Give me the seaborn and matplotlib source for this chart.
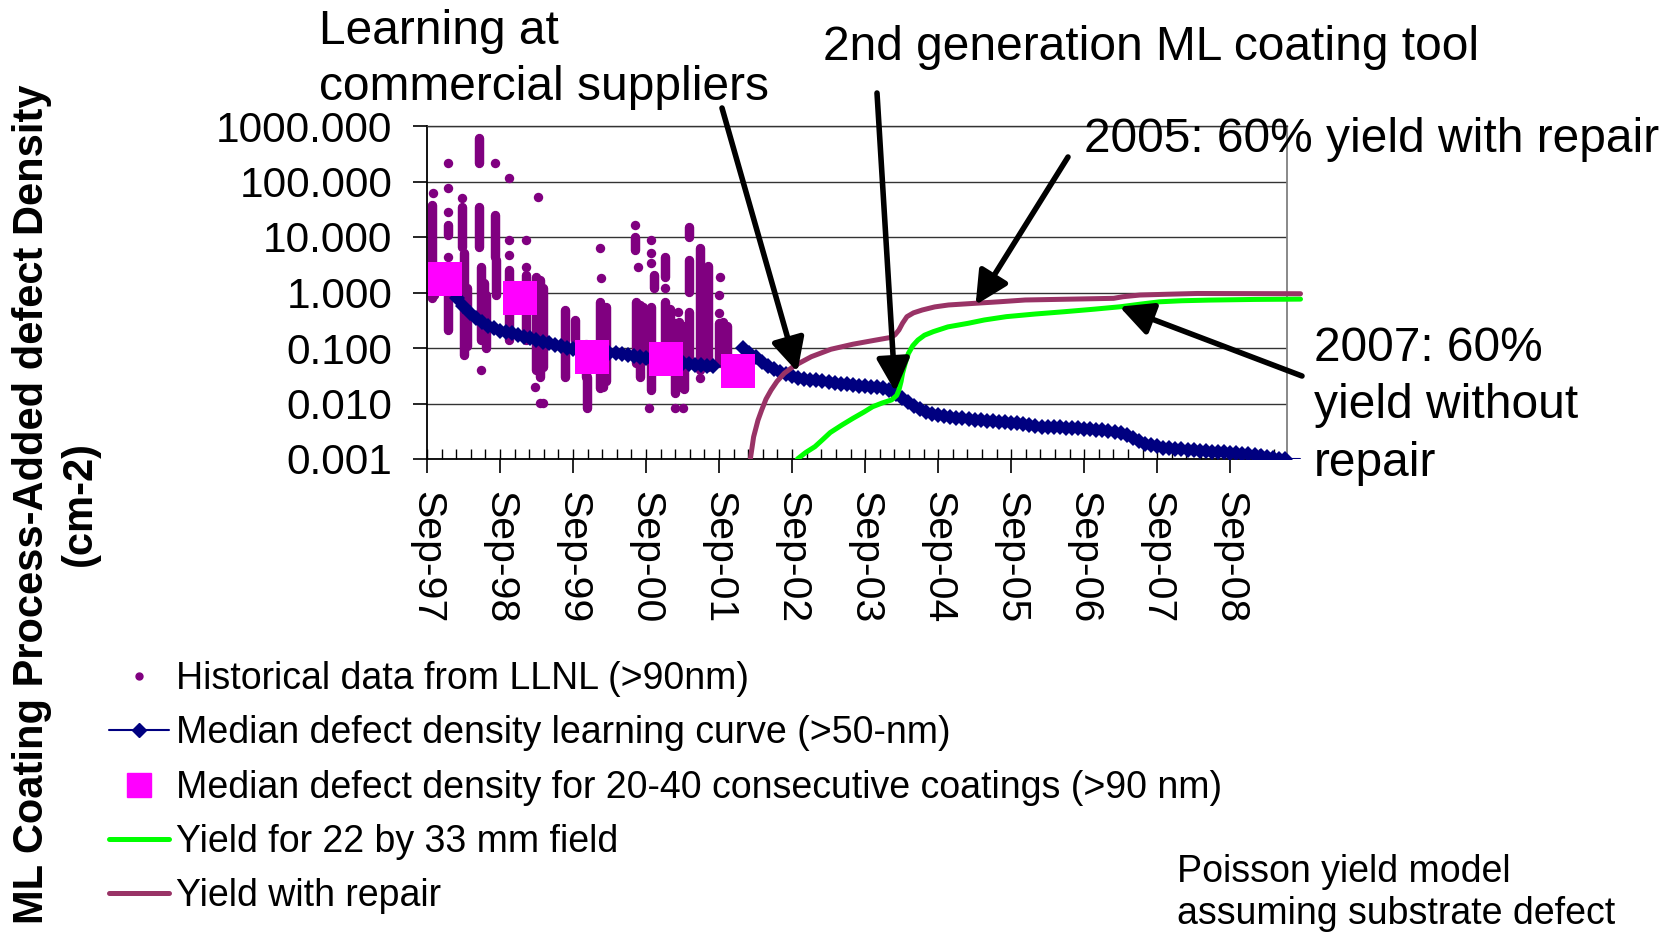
"""
ML coating defect density learning curve with Poisson yield curves.
"""
import numpy as np
import matplotlib
matplotlib.use("Agg")
import matplotlib.pyplot as plt
from matplotlib.lines import Line2D
from matplotlib.ticker import FixedLocator, FuncFormatter, NullLocator
from matplotlib.transforms import Bbox, TransformedBbox
import seaborn as sns

# x positions are decimal years (Sep-97 = 1997.667)
year_labels = ["Sep-97", "Sep-98", "Sep-99", "Sep-00", "Sep-01", "Sep-02",
               "Sep-03", "Sep-04", "Sep-05", "Sep-06", "Sep-07", "Sep-08"]
y_tick_values = [0.001, 0.01, 0.1, 1, 10, 100, 1000]

# historical LLNL data: single dots
hist_x = [1997.75, 1997.95, 1997.95, 1997.95, 1997.95, 1998.14, 1998.40, 1998.60,
          1998.79, 1998.79, 1998.79, 1999.02, 1999.02, 1999.19, 1999.15, 1999.22,
          1999.25, 2000.03, 2000.05, 2000.52, 2000.55, 2000.71, 2000.74, 2000.74,
          2000.74, 2000.93, 2001.10, 2001.06, 2001.17, 2001.40, 2001.68, 2001.66,
          2001.66]
hist_y = [61, 212, 75, 28.6, 4.4, 50, 0.04, 212,
          114, 8.8, 4.7, 8.8, 2.92, 53, 0.0201, 0.0101,
          0.0101, 6.25, 1.8, 16.4, 2.92, 0.0082, 8.8, 5.1,
          3.36, 1.19, 0.45, 0.0082, 0.0082, 0.0284, 1.93, 0.90,
          0.42]

# historical LLNL data: dense vertical runs of dots (x, top, bottom)
run_x = [1997.73, 1997.76, 1997.95, 1997.96, 1998.14, 1998.17, 1998.21, 1998.38,
         1998.38, 1998.41, 1998.45, 1998.60, 1998.61, 1998.79, 1999.02, 1999.16,
         1999.21, 1999.26, 1999.56, 1999.69, 1999.86, 1999.84, 2000.04, 2000.12,
         2000.52, 2000.53, 2000.63, 2000.74, 2000.77, 2000.93, 2000.93, 2000.99,
         2001.06, 2001.18, 2001.26, 2001.26, 2001.26, 2001.41, 2001.51, 2001.66,
         2001.78, 1998.48, 1999.18, 2000.58, 2001.12, 2001.46, 2001.72, 2000.08]
run_top = [37.7, 3.0, 16.4, 1.93, 35, 5.1, 1.2, 600,
           35, 2.92, 1.5, 24.9, 3.85, 2.54, 2.07, 1.93,
           1.68, 1.2, 0.484, 0.32, 0.0304, 0.12, 0.68, 0.55,
           10.1, 0.68, 0.55, 0.556, 2.07, 4.4, 0.68, 0.5,
           0.278, 0.25, 15.3, 3.85, 0.45, 6.25, 3.0, 0.278,
           0.25, 0.9, 1.5, 0.6, 0.3, 2.0, 0.3, 0.5]
run_bottom = [0.785, 0.9, 10.9, 0.21, 6.7, 0.075, 0.11, 212,
              6.7, 0.139, 0.15, 4.4, 0.90, 0.139, 0.139, 0.040,
              0.0304, 0.046, 0.0304, 0.139, 0.0082, 0.03, 0.0188, 0.025,
              5.8, 0.053, 0.06, 0.0175, 1.19, 1.93, 0.046, 0.05,
              0.0152, 0.018, 10.1, 1.03, 0.061, 0.040, 0.045, 0.053,
              0.06, 0.1, 0.05, 0.03, 0.02, 0.05, 0.06, 0.02]

# median defect density, 20-40 consecutive coatings
square_x = [1997.92, 1998.94, 1999.92, 2000.94, 2001.92]
square_y = [1.77, 0.785, 0.0697, 0.0634, 0.0388]

# median learning curve, monthly (Feb-98 .. Aug-01, Jan-02 .. Jun-09)
blue1_start = 1998.083
blue1_vals = [0.78, 0.58, 0.43, 0.35, 0.29, 0.25, 0.225, 0.205, 0.195, 0.185, 0.17,
              0.16, 0.15, 0.14, 0.13, 0.122, 0.115, 0.108, 0.10, 0.095, 0.092, 0.09, 0.088,
              0.086, 0.084, 0.082, 0.08, 0.078, 0.075, 0.072, 0.068, 0.065, 0.063, 0.061, 0.059,
              0.057, 0.055, 0.053, 0.051, 0.05, 0.049, 0.048, 0.047]
blue2_start = 2002.0
blue2_vals = [0.10, 0.082, 0.068, 0.055, 0.047, 0.041, 0.037, 0.034, 0.031, 0.029, 0.028, 0.027,
              0.026, 0.025, 0.024, 0.0232, 0.0225, 0.022, 0.0215, 0.021, 0.0205, 0.020, 0.0195, 0.019,
              0.0175, 0.015, 0.0128, 0.0106, 0.009, 0.0078, 0.0071, 0.0066, 0.0062, 0.0059, 0.0057, 0.0055,
              0.0054, 0.0053, 0.0051, 0.0050, 0.0049, 0.0048, 0.0047, 0.0046, 0.0045, 0.0044, 0.0042, 0.0041,
              0.0039, 0.0038, 0.0038, 0.0037, 0.0037, 0.0036, 0.0036, 0.0036, 0.0035, 0.0035, 0.0034, 0.0034,
              0.0032, 0.0031, 0.0030, 0.0027, 0.0024, 0.0021, 0.0019, 0.0018, 0.0017, 0.0016, 0.00157, 0.00153,
              0.0015, 0.00147, 0.00144, 0.00141, 0.00138, 0.00135, 0.00133, 0.00131, 0.00129, 0.00127, 0.00124, 0.00121,
              0.00118, 0.00114, 0.0011, 0.00106, 0.00102, 0.001]
blue_tail_x = [2009.417, 2009.62]
blue_tail_y = [0.001, 0.001]

# yield for 22 x 33 mm field
green_x = [2002.66, 2002.74, 2002.85, 2002.98, 2003.08, 2003.19, 2003.35, 2003.5, 2003.65,
           2003.77, 2003.9, 2004.03, 2004.10, 2004.13, 2004.16, 2004.18, 2004.22, 2004.26,
           2004.32, 2004.39, 2004.48, 2004.60, 2004.8, 2005.08, 2005.3, 2005.60, 2006.0,
           2006.39, 2006.8, 2007.17, 2007.45, 2007.70, 2008.0, 2008.38, 2009.0, 2009.63]
green_y = [0.0005, 0.001, 0.0013, 0.00167, 0.0022, 0.003, 0.0041, 0.0054, 0.0070,
           0.00875, 0.0102, 0.0116, 0.014, 0.0175, 0.025, 0.035, 0.055, 0.080,
           0.11, 0.139, 0.17, 0.197, 0.24, 0.279, 0.32, 0.367, 0.41,
           0.45, 0.50, 0.555, 0.62, 0.68, 0.71, 0.73, 0.75, 0.76]

# yield with repair
repair_x = [2002.06, 2002.10, 2002.14, 2002.20, 2002.25, 2002.31, 2002.38, 2002.46, 2002.56,
            2002.70, 2002.93, 2003.2, 2003.5, 2003.8, 2004.03, 2004.08, 2004.13, 2004.18,
            2004.24, 2004.33, 2004.45, 2004.62, 2004.81, 2005.18, 2005.5, 2005.86, 2006.5,
            2007.07, 2007.2, 2007.43, 2007.8, 2008.21, 2009.63]
repair_y = [0.0005, 0.0011, 0.0025, 0.005, 0.0076, 0.012, 0.0175, 0.025, 0.035,
            0.048, 0.0697, 0.095, 0.117, 0.138, 0.156, 0.175, 0.211, 0.28,
            0.367, 0.43, 0.484, 0.55, 0.596, 0.64, 0.68, 0.733, 0.76,
            0.785, 0.84, 0.90, 0.93, 0.96, 0.95]

legend_labels = ["Historical data from LLNL (>90nm)",
                 "Median defect density learning curve (>50-nm)",
                 "Median defect density for 20-40 consecutive coatings (>90 nm)",
                 "Yield for 22 by 33 mm field",
                 "Yield with repair"]

PURPLE = "#800080"
NAVY = "#000080"
PINK = "#FF00FF"
GREEN = "#00FF00"
MAROON = "#993366"

sns.set_theme(style="white", rc={"text.color": "black", "axes.labelcolor": "black",
                                 "xtick.color": "black", "ytick.color": "black"})
plt.rcParams["font.family"] = ["Liberation Sans", "DejaVu Sans"]

W, H = 1666, 933
fig = plt.figure(figsize=(W / 100, H / 100), dpi=100)
ax = fig.add_axes([427 / W, 474 / H, 860 / W, 333 / H])
ax.set_yscale("log")

# historical data
ax.vlines(run_x, run_bottom, run_top, colors=PURPLE, linewidth=6.8, capstyle="round", zorder=2)
sns.scatterplot(x=hist_x, y=hist_y, color=PURPLE, s=46, linewidth=0, ax=ax, zorder=2)

# learning curve
blue1_x = blue1_start + np.arange(len(blue1_vals)) / 12
blue2_x = blue2_start + np.arange(len(blue2_vals)) / 12
for bx, by in [(blue1_x, blue1_vals), (blue2_x, blue2_vals)]:
    sns.lineplot(x=bx, y=by, color=NAVY, lw=4.5, marker="D", markersize=8.5,
                 markeredgewidth=0, estimator=None, sort=False, ax=ax, zorder=3)
sns.lineplot(x=blue_tail_x, y=blue_tail_y, color=NAVY, lw=1.5, estimator=None,
             sort=False, ax=ax, zorder=3)

# consecutive coating medians
sns.scatterplot(x=square_x, y=square_y, color=PINK, marker="s", s=24 ** 2,
                linewidth=0, ax=ax, zorder=4)

# yield curves
sns.lineplot(x=green_x, y=green_y, color=GREEN, lw=3.6, estimator=None, sort=False,
             ax=ax, zorder=5)
sns.lineplot(x=repair_x, y=repair_y, color=MAROON, lw=3.6, estimator=None, sort=False,
             ax=ax, zorder=5)

# lines run a little past the right border, like the original
wide_clip = TransformedBbox(Bbox([[0, 0], [1.03, 1]]), ax.transAxes)
for ln in ax.lines:
    ln.set_clip_path(None)
    ln.set_clip_box(wide_clip)

ax.set_xlim(1997.667, 2009.445)
ax.set_ylim(0.001, 1000)

major_x = [1997.667 + k for k in range(len(year_labels))]
ax.xaxis.set_major_locator(FixedLocator(major_x))
ax.set_xticklabels(year_labels, rotation=270, fontsize=29.5)
ax.xaxis.set_minor_locator(FixedLocator([1997.667 + k / 5 for k in range(59)]))
ax.xaxis.remove_overlapping_locs = False
ax.tick_params(axis="x", which="major", direction="out", length=10, width=1.2,
               color="black", pad=13, bottom=True)
ax.tick_params(axis="x", which="minor", direction="in", length=7, width=1.0,
               color="black", bottom=True)

ax.yaxis.set_major_locator(FixedLocator(y_tick_values))
ax.yaxis.set_minor_locator(NullLocator())
ax.yaxis.set_major_formatter(FuncFormatter(lambda v, p: f"{v:.3f}"))
ax.tick_params(axis="y", which="major", direction="out", length=10, width=1.2,
               color="black", pad=15, labelsize=30.5, left=True)

ax.yaxis.grid(True, color="#333333", lw=1.0)
ax.xaxis.grid(False)
for side in ["left", "bottom"]:
    ax.spines[side].set_color("black")
    ax.spines[side].set_linewidth(1.3)
ax.spines["right"].set_color("#808080")
ax.spines["right"].set_linewidth(1.3)
ax.spines["top"].set_color("#333333")
ax.spines["top"].set_linewidth(1.0)

ax.set_xlabel("")
ax.set_ylabel("ML Coating Process-Added defect Density\n(cm-2)", fontsize=30,
              fontweight="bold", linespacing=1.25)
ax.yaxis.label.set_va("center")
ax.yaxis.set_label_coords((56 - 427) / 860, -(504 - 459) / 333)

# legend
handles = [
    Line2D([], [], ls="none", marker="o", color=PURPLE, markersize=5),
    Line2D([], [], color=NAVY, lw=1.5, marker="D", markersize=7),
    Line2D([], [], ls="none", marker="s", color=PINK, markersize=17),
    Line2D([], [], color=GREEN, lw=3.6),
    Line2D([], [], color=MAROON, lw=3.6),
]
ax.legend(handles, legend_labels, loc="upper left", bbox_to_anchor=(109 / W, 1 - 661 / H),
          bbox_transform=fig.transFigure, frameon=False, fontsize=27, handlelength=1.6,
          handletextpad=0.2, labelspacing=0.49, borderpad=0, borderaxespad=0)

# annotations
arrow = dict(arrowstyle="-|>,head_length=0.4,head_width=0.2", mutation_scale=50,
             lw=4, color="black", shrinkA=0, shrinkB=0)
ax.annotate("", xy=(2002.74, 0.037), xytext=(722 / W, 1 - 108 / H),
            textcoords="figure fraction", arrowprops=arrow, annotation_clip=False, zorder=6)
ax.annotate("", xy=(2004.08, 0.0163), xytext=(877 / W, 1 - 93 / H),
            textcoords="figure fraction", arrowprops=arrow, annotation_clip=False, zorder=6)
ax.annotate("", xy=(2005.18, 0.596), xytext=(1068 / W, 1 - 157 / H),
            textcoords="figure fraction", arrowprops=arrow, annotation_clip=False, zorder=6)
ax.annotate("", xy=(2007.15, 0.555), xytext=(1302 / W, 1 - 376 / H),
            textcoords="figure fraction", arrowprops=arrow, annotation_clip=False, zorder=6)

fig.text(319 / W, 1 - 59.5 / H, "Learning at\ncommercial suppliers", fontsize=34.5,
         ha="left", va="center", linespacing=1.32)
fig.text(823 / W, 1 - 48 / H, "2nd generation ML coating tool", fontsize=34.5,
         ha="left", va="center")
fig.text(1084 / W, 1 - 140 / H, "2005: 60% yield with repair", fontsize=34.5,
         ha="left", va="center")
fig.text(1314 / W, 1 - 406 / H, "2007: 60%\nyield without\nrepair", fontsize=34.5,
         ha="left", va="center", linespacing=1.36)
fig.text(1177 / W, 1 - 893 / H, "Poisson yield model\nassuming substrate defect",
         fontsize=27, ha="left", va="center", linespacing=1.2)

fig.savefig("out.png", dpi=100)
